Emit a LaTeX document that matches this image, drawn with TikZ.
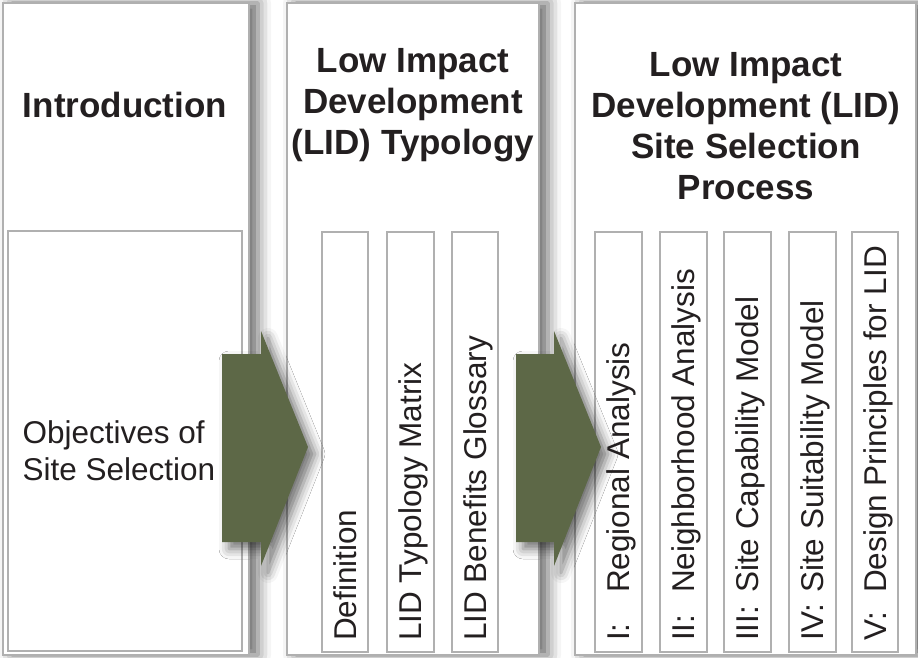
\documentclass[tikz,border=0pt]{standalone}
\usepackage{fontspec}
\setmainfont{Liberation Sans}
\usetikzlibrary{shadows.blur}

\definecolor{framegray}{RGB}{176,176,176}
\definecolor{arrowgreen}{RGB}{93,104,71}
\definecolor{inkblack}{RGB}{35,31,32}

\tikzset{
    outerbox/.style={draw=framegray, line width=2.8pt, fill=white,
        blur shadow={shadow xshift=9pt, shadow yshift=0pt, shadow blur radius=13pt, shadow opacity=60}},
    innerbox/.style={draw=framegray, line width=2pt, fill=white},
    flowarrow/.style={fill=arrowgreen,
        blur shadow={shadow xshift=7pt, shadow yshift=-7pt, shadow blur radius=10pt, shadow opacity=55}},
    heading/.style={font=\bfseries\fontsize{35}{41}\selectfont, align=center, text=inkblack},
    bodytext/.style={font=\fontsize{31.5}{37}\selectfont, text=inkblack},
    vlabel/.style={bodytext, rotate=90, anchor=west, inner sep=0pt, text height=22.6pt, text depth=0pt}
}
\newcommand{\stagenum}[1]{\makebox[48pt][l]{#1}}

\begin{document}
\begin{tikzpicture}[x=1pt, y=-1pt]
        \useasboundingbox (0,0) rectangle (918,658);
        % the three columns
        \draw [outerbox] (3,3) rectangle (249,655);
        \draw [outerbox] (287,3) rectangle (539,655);
        \draw [outerbox] (575,3) rectangle (916,655);
        % boxes inside them
        \draw [innerbox] (8,231) rectangle (242,651);
        \draw [innerbox] (322,232) rectangle (368,652);
        \draw [innerbox] (387,232) rectangle (434,652);
        \draw [innerbox] (452,232) rectangle (498,652);
        \draw [innerbox] (595,232) rectangle (642,652);
        \draw [innerbox] (660,232) rectangle (707,652);
        \draw [innerbox] (724,232) rectangle (771,652);
        \draw [innerbox] (789,232) rectangle (836,652);
        \draw [innerbox] (852,232) rectangle (898,652);
        % big arrows
        \fill [flowarrow] (222,354) -- (261,354) -- (261,331) -- (308,447)
            -- (261,566) -- (261,542) -- (222,542) -- cycle;
        \fill [flowarrow] (516,354) -- (554,354) -- (554,331) -- (601,447)
            -- (554,566) -- (554,542) -- (516,542) -- cycle;
        % headings
        \node [heading] (intro) at (125,105) {Introduction};
        \node [heading] (typology) at (413,105) {Low Impact\\Development\\(LID) Typology};
        \node [heading] (process) at (746,126) {Low Impact\\Development (LID)\\Site Selection\\Process};
        \node [bodytext, align=left, anchor=west] (objectives) at (19,451) {Objectives of\\Site Selection};
        % vertical labels
        \node [vlabel] (definition) at (345,641) {Definition};
        \node [vlabel] (matrix) at (410.5,641) {LID Typology Matrix};
        \node [vlabel] (glossary) at (475,641) {LID Benefits Glossary};
        \node [vlabel] (regional) at (618.5,641) {\stagenum{I:}Regional Analysis};
        \node [vlabel] (neighbor) at (683.5,641) {\stagenum{II:}Neighborhood Analysis};
        \node [vlabel] (capability) at (747.5,641) {\stagenum{III:}Site Capability Model};
        \node [vlabel] (suitability) at (812.5,641) {\stagenum{IV:}Site Suitability Model};
        \node [vlabel] (principles) at (875,641) {\stagenum{V:}Design Principles for LID};
    \end{tikzpicture}
\end{document}
